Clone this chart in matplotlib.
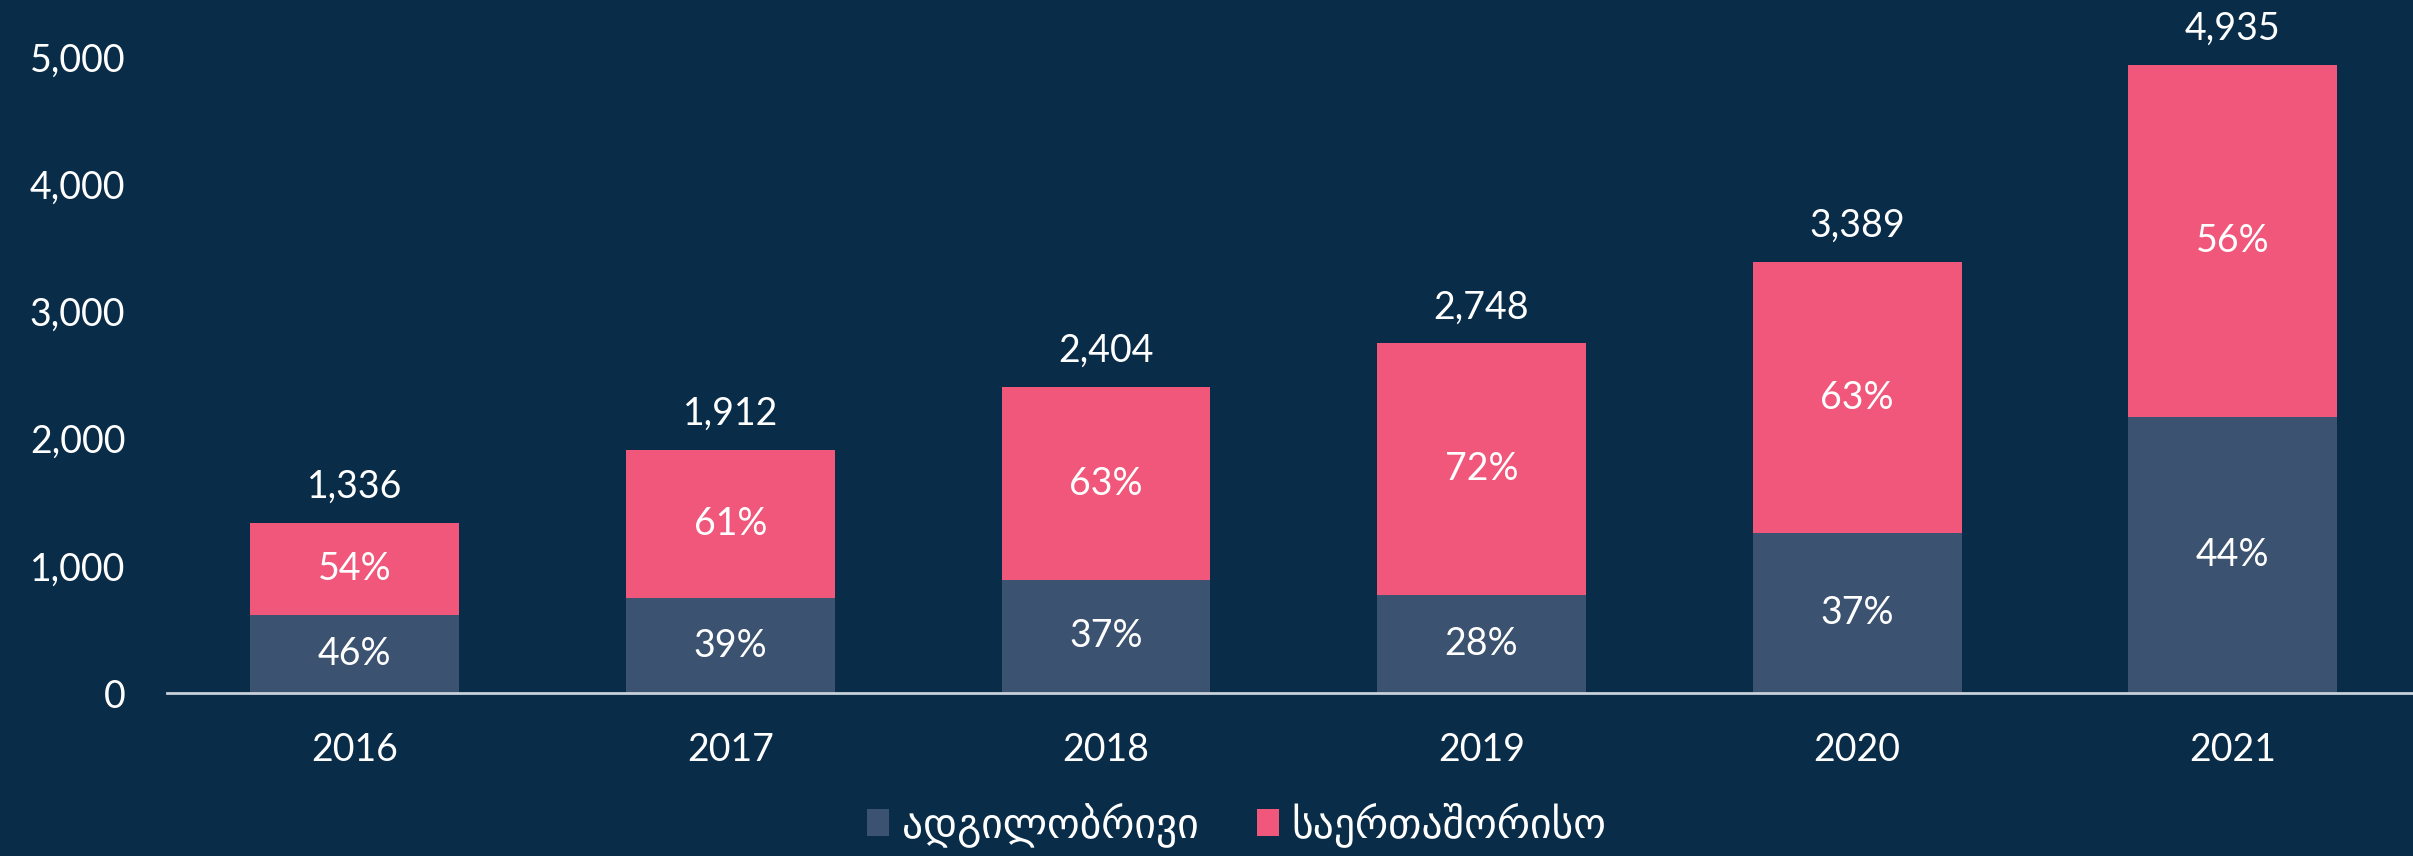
import numpy as np
import matplotlib.pyplot as plt
from matplotlib.ticker import FuncFormatter

plt.rcParams['font.family'] = ['Lato', 'DejaVu Sans']

# მონაცემები
years = ['2016', '2017', '2018', '2019', '2020', '2021']
totals = [1336, 1912, 2404, 2748, 3389, 4935]
local_vals = [615, 746, 889, 769, 1254, 2171]
intl_vals = [721, 1166, 1515, 1979, 2135, 2764]
local_pct = ['46%', '39%', '37%', '28%', '37%', '44%']
intl_pct = ['54%', '61%', '63%', '72%', '63%', '56%']
labels = ['ადგილობრივი', 'საერთაშორისო']

bg = '#092c48'
c_local = '#3b5270'
c_intl = '#f0577a'

fig = plt.figure(figsize=(24.13, 8.56), dpi=100, facecolor=bg)
ax = fig.add_axes([167 / 2413, 163 / 856, 1 - 167 / 2413, 693 / 856])
ax.set_facecolor(bg)

x = np.arange(len(years))
w = 0.556
b1 = ax.bar(x, local_vals, w, color=c_local, label=labels[0])
b2 = ax.bar(x, intl_vals, w, bottom=local_vals, color=c_intl, label=labels[1])

for i in range(len(years)):
    ax.text(x[i], local_vals[i] / 2, local_pct[i], ha='center', va='center',
            color='white', fontsize=27)
    ax.text(x[i], local_vals[i] + intl_vals[i] / 2, intl_pct[i], ha='center', va='center',
            color='white', fontsize=27)
    ax.annotate(f'{totals[i]:,}', (x[i], totals[i]), xytext=(0, 26), textcoords='offset points',
                ha='center', va='center', color='white', fontsize=27)

ax.set_xlim(-0.5, 5.48)
ax.set_ylim(0, 5448)
ax.set_yticks([0, 1000, 2000, 3000, 4000, 5000])
ax.yaxis.set_major_formatter(FuncFormatter(lambda v, p: f'{int(v):,}'))
ax.set_xticks(x)
ax.set_xticklabels(years)
ax.tick_params(axis='y', length=0, pad=30, labelsize=27, labelcolor='white')
ax.tick_params(axis='x', length=0, pad=28, labelsize=27, labelcolor='white')
for s in ['top', 'right', 'left']:
    ax.spines[s].set_visible(False)
ax.spines['bottom'].set_color('#c8d0dc')
ax.spines['bottom'].set_linewidth(2)

leg = fig.legend(handles=[b1, b2], loc='center', bbox_to_anchor=(1237 / 2413, 31 / 856),
                 ncol=2, frameon=False, fontsize=30, handlelength=0.53, handleheight=0.62,
                 handletextpad=0.3, columnspacing=1.4)
for t in leg.get_texts():
    t.set_color('white')

plt.savefig('out.png', dpi=100, facecolor=bg)
